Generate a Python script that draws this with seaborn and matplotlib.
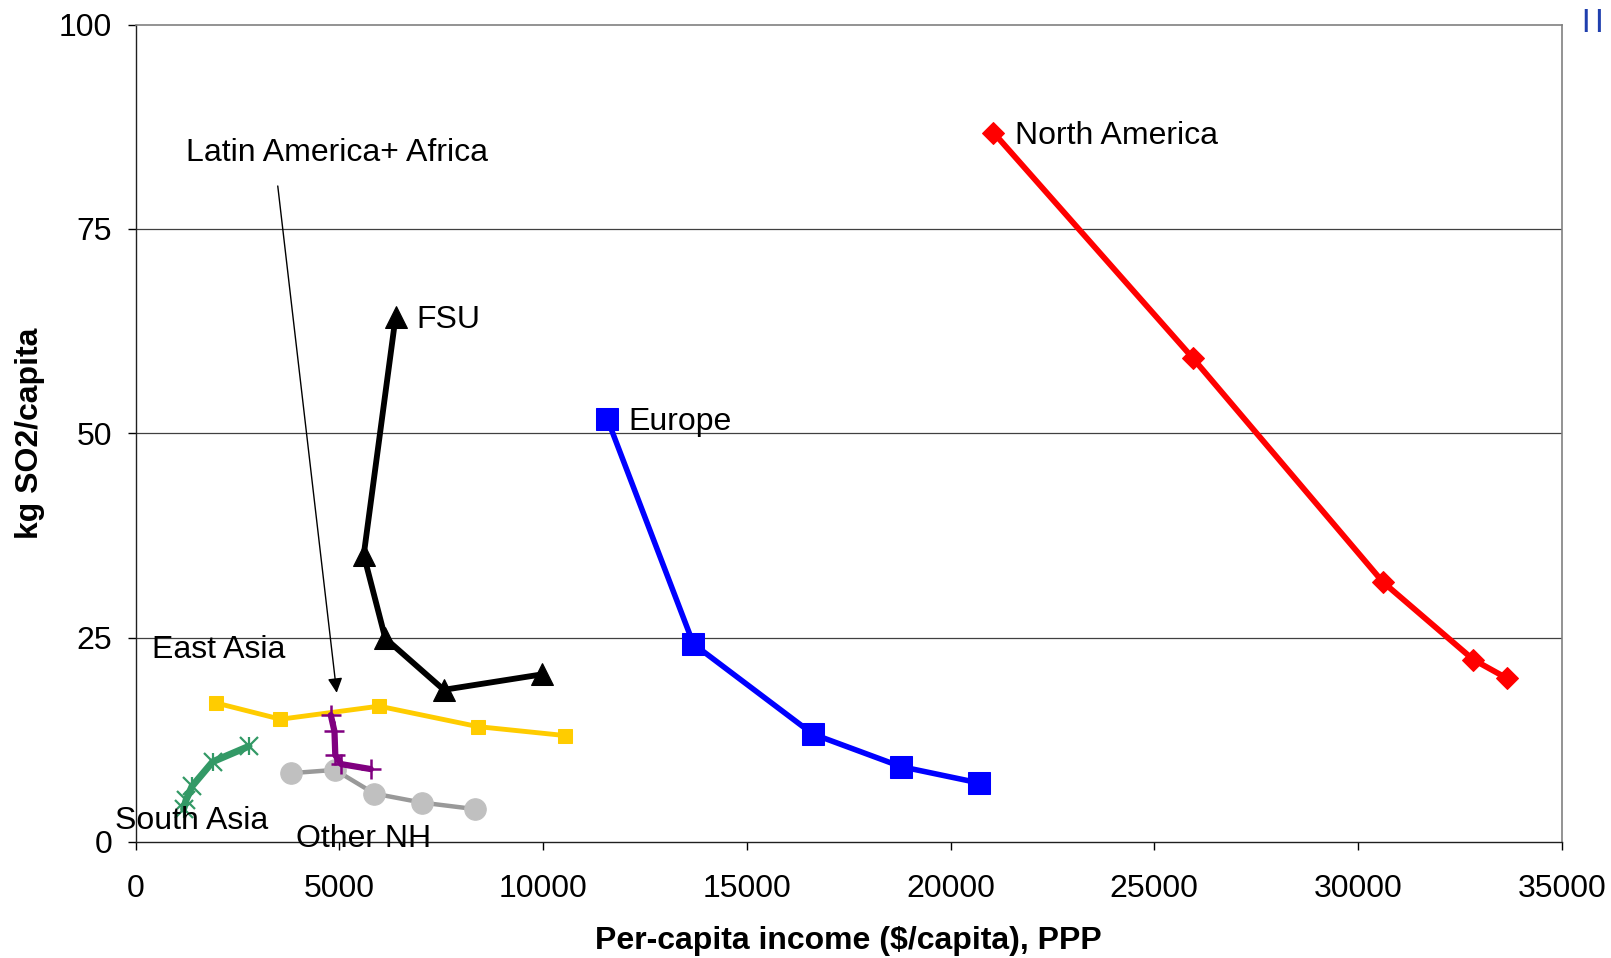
import numpy as np
import pandas as pd
import seaborn as sns
import matplotlib.pyplot as plt

# kg SO2 per capita vs per-capita income, by region
na_x = [21054, 25946, 30610, 32829, 33661]
na_y = [86.8, 59.2, 31.8, 22.3, 20.0]

eu_x = [11573, 13691, 16616, 18785, 20701]
eu_y = [51.8, 24.2, 13.2, 9.2, 7.2]

fsu_x = [6379, 5598, 6127, 7564, 9985]
fsu_y = [64.2, 35.1, 24.9, 18.6, 20.5]

ea_x = [1967, 3555, 5976, 8396, 10540]
ea_y = [17.0, 15.0, 16.6, 14.1, 13.0]

sa_x = [1176, 1237, 1384, 1892, 2783]
sa_y = [4.0, 5.1, 6.8, 9.8, 11.7]

onh_x = [3814, 4894, 5858, 7022, 8330]
onh_y = [8.4, 8.8, 5.9, 4.8, 4.0]

laf_x = [4790, 4880, 4900, 5050, 5770]
laf_y = [15.5, 13.5, 10.6, 9.5, 8.9]

xticks = [0, 5000, 10000, 15000, 20000, 25000, 30000, 35000]
yticks = [0, 25, 50, 75, 100]

sns.set_style("white")
plt.rcParams['font.family'] = ['Liberation Sans', 'DejaVu Sans']
plt.rcParams['text.color'] = 'black'
plt.rcParams['axes.labelcolor'] = 'black'
plt.rcParams['xtick.color'] = 'black'
plt.rcParams['ytick.color'] = 'black'

fig = plt.figure(figsize=(16.11, 9.58), dpi=100)
ax = fig.add_axes([0.0842, 0.1213, 0.9694 - 0.0842, 0.9742 - 0.1213])

# horizontal grid lines at 25/50/75
for v in yticks[1:-1]:
    ax.axhline(v, color='#404040', lw=0.9, zorder=0)

sns.lineplot(x=na_x, y=na_y, sort=False, ax=ax, color='#FF0000', lw=4.2,
             marker='D', markersize=11.5, markeredgecolor='#FF0000')
sns.lineplot(x=eu_x, y=eu_y, sort=False, ax=ax, color='#0000FF', lw=4.0,
             marker='s', markersize=16, markeredgecolor='#0000FF')
sns.lineplot(x=fsu_x, y=fsu_y, sort=False, ax=ax, color='black', lw=4.2,
             marker='^', markersize=16, markeredgecolor='black')
sns.lineplot(x=ea_x, y=ea_y, sort=False, ax=ax, color='#FFCC00', lw=3.5,
             marker='s', markersize=10.5, markeredgecolor='#FFCC00')
sns.lineplot(x=onh_x, y=onh_y, sort=False, ax=ax, color='#999999', lw=3.2,
             marker='o', markersize=15.5, markerfacecolor='#C0C0C0', markeredgecolor='#C0C0C0')
sns.lineplot(x=sa_x, y=sa_y, sort=False, ax=ax, color='#339966', lw=5.0,
             marker='x', markersize=13, markeredgewidth=1.6, markeredgecolor='#339966')
ax.plot(sa_x, sa_y, ls='none', marker='|', markersize=13, markeredgewidth=1.6, color='#339966')
sns.lineplot(x=laf_x, y=laf_y, sort=False, ax=ax, color='#800080', lw=4.5,
             marker='+', markersize=14, markeredgewidth=1.8, markeredgecolor='#800080')

ax.annotate('', xy=(4943, 17.9), xytext=(3480, 80.6),
            arrowprops=dict(arrowstyle='-|>', color='black', lw=1.0, mutation_scale=22))

fs = 23
ax.text(21581, 86.4, 'North America', fontsize=fs, va='center', ha='left')
ax.text(6884, 63.8, 'FSU', fontsize=fs, va='center', ha='left')
ax.text(12103, 51.4, 'Europe', fontsize=fs, va='center', ha='left')
ax.text(404, 23.5, 'East Asia', fontsize=fs, va='center', ha='left')
ax.text(-504, 2.5, 'South Asia', fontsize=fs, va='center', ha='left')
ax.text(3933, 0.35, 'Other NH', fontsize=fs, va='center', ha='left')
ax.text(1237, 84.3, 'Latin America+ Africa', fontsize=fs, va='center', ha='left')

ax.set_xlim(0, 35000)
ax.set_ylim(0, 100)
ax.set_xticks(xticks)
ax.set_yticks(yticks)
ax.set_xticklabels([str(t) for t in xticks])
ax.set_yticklabels([str(t) for t in yticks])
ax.tick_params(axis='x', direction='out', length=6, width=1, color='black',
               labelsize=fs, pad=17, bottom=True)
ax.tick_params(axis='y', direction='out', length=6, width=1, color='black',
               labelsize=fs, pad=11, left=True)

for side in ['left', 'bottom']:
    ax.spines[side].set_color('#202020')
    ax.spines[side].set_linewidth(1.0)
for side in ['top', 'right']:
    ax.spines[side].set_color('#808080')
    ax.spines[side].set_linewidth(1.2)

ax.set_xlabel('Per-capita income (\\$/capita), PPP', fontsize=fs, fontweight='bold', labelpad=16)
ax.set_ylabel('kg SO2/capita', fontsize=fs, fontweight='bold', labelpad=10)

fig.text(0.9888, 0.979, '| |', color='#1f3fae', fontsize=17, fontweight='bold',
         ha='center', va='center')

fig.savefig('out.png', dpi=100)
